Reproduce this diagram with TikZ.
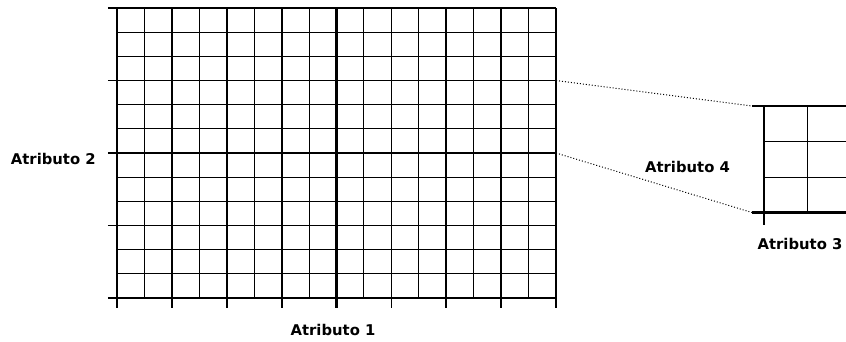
\documentclass[tikz,border=0pt]{standalone}
\usepackage{fontspec}
\setmainfont{DejaVu Sans}
\usetikzlibrary{positioning}

\begin{document}
\begin{tikzpicture}[x=1pt, y=-1pt,
    every node/.style={font=\bfseries\fontsize{14.8}{16}\selectfont, inner sep=0pt},
    thinline/.style={line width=1pt},
    midline/.style={line width=1.8pt},
    heavyline/.style={line width=2.6pt},
    zoomline/.style={dotted, line width=1pt}]
      \useasboundingbox (0,0) rectangle (846,341);
      % big grid
      \begin{scope}[shift={(117,8)}, x=27.44pt, y=-24.17pt]
        \foreach \c in {1,3,...,15} \draw[thinline] (\c,0) -- (\c,12);
        \foreach \r in {1,2,4,5,7,8,10,11} \draw[thinline] (0,\r) -- (16,\r);
        \foreach \c in {2,4,6,10,12,14,16} \draw[midline] (\c,0) -- (\c,12.41);
        \foreach \r in {0,3,9} \draw[midline] (-0.33,\r) -- (16,\r);
        \foreach \c in {0,8} \draw[heavyline] (\c,0) -- (\c,12.41);
        \foreach \r in {6,12} \draw[heavyline] (-0.33,\r) -- (16,\r);
        \coordinate (bigtop) at (16,3);
        \coordinate (bigbot) at (16,6);
      \end{scope}
      % zoomed grid
      \begin{scope}[shift={(764,106)}, x=43pt, y=-35.5pt]
        \draw[thinline] (1,0) -- (1,3);
        \foreach \r in {1,2} \draw[thinline] (0,\r) -- (1.91,\r);
        \draw[midline] (-0.28,0) -- (1.91,0);
        \draw[heavyline] (-0.28,3) -- (1.91,3);
        \draw[heavyline] (0,0) -- (0,3.35);
        \coordinate (smalltop) at (-0.28,0);
        \coordinate (smallbot) at (-0.28,3);
      \end{scope}
      \draw[zoomline] (bigtop) -- (smalltop);
      \draw[zoomline] (bigbot) -- (smallbot);
      % labels
      \node[anchor=base] (attr1) at (333,335.7) {Atributo 1};
      \node[anchor=base] (attr2) at (53.3,164) {Atributo 2};
      \node[anchor=base] (attr4) at (687.5,172.5) {Atributo 4};
      \node[anchor=base] (attr3) at (800,249.5) {Atributo 3};
    \end{tikzpicture}
\end{document}
